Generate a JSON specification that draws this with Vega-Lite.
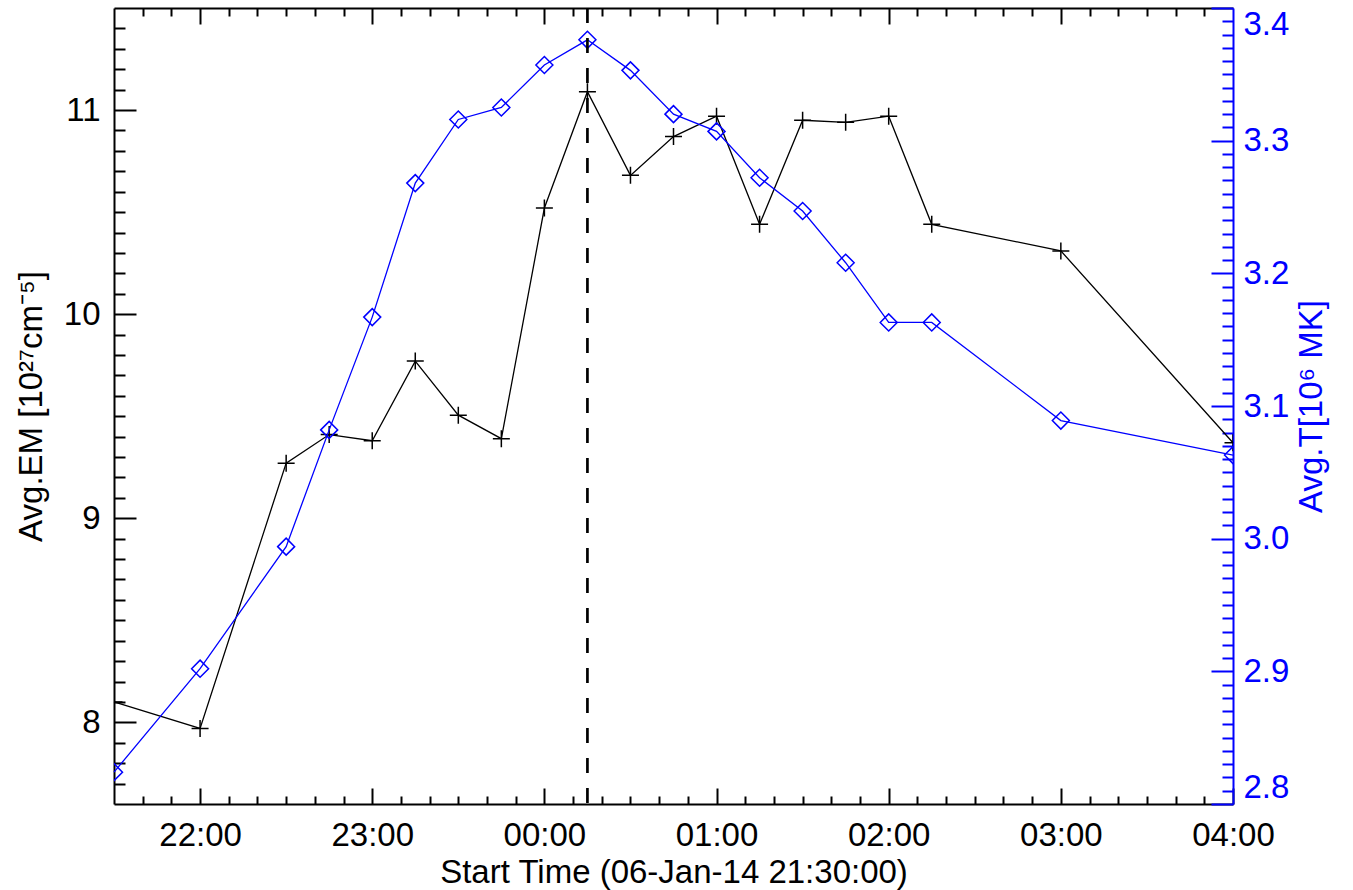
{
  "$schema": "https://vega.github.io/schema/vega-lite/v6.json",
  "width": 1119,
  "height": 796,
  "autosize": {"type": "none"},
  "padding": {"left": 114, "top": 8, "right": 120, "bottom": 86},
  "background": "white",
  "config": {
    "view": {"stroke": null},
    "font": "Liberation Sans",
    "axis": {"grid": false, "labelFont": "Liberation Sans", "titleFont": "Liberation Sans", "labelFontSize": 33, "titleFontSize": 33, "titleFontWeight": "normal", "labelColor": "black", "titleColor": "black", "tickColor": "black", "domainColor": "black", "domainWidth": 2, "tickWidth": 2}
  },
  "data": {
    "values": [
      {"time": "2014-01-06T21:30:00", "em": 8.10, "t": 2.824},
      {"time": "2014-01-06T22:00:00", "em": 7.97, "t": 2.902},
      {"time": "2014-01-06T22:30:00", "em": 9.27, "t": 2.994},
      {"time": "2014-01-06T22:45:00", "em": 9.41, "t": 3.082},
      {"time": "2014-01-06T23:00:00", "em": 9.38, "t": 3.167},
      {"time": "2014-01-06T23:15:00", "em": 9.77, "t": 3.268},
      {"time": "2014-01-06T23:30:00", "em": 9.505, "t": 3.316},
      {"time": "2014-01-06T23:45:00", "em": 9.39, "t": 3.325},
      {"time": "2014-01-07T00:00:00", "em": 10.52, "t": 3.357},
      {"time": "2014-01-07T00:15:00", "em": 11.09, "t": 3.376},
      {"time": "2014-01-07T00:30:00", "em": 10.68, "t": 3.353},
      {"time": "2014-01-07T00:45:00", "em": 10.87, "t": 3.320},
      {"time": "2014-01-07T01:00:00", "em": 10.97, "t": 3.307},
      {"time": "2014-01-07T01:15:00", "em": 10.44, "t": 3.272},
      {"time": "2014-01-07T01:30:00", "em": 10.95, "t": 3.247},
      {"time": "2014-01-07T01:45:00", "em": 10.94, "t": 3.208},
      {"time": "2014-01-07T02:00:00", "em": 10.97, "t": 3.163},
      {"time": "2014-01-07T02:15:00", "em": 10.44, "t": 3.163},
      {"time": "2014-01-07T03:00:00", "em": 10.31, "t": 3.089},
      {"time": "2014-01-07T04:00:00", "em": 9.37, "t": 3.063}
    ]
  },
  "resolve": {"scale": {"x": "independent", "y": "independent"}},
  "layer": [
    {
      "mark": {"type": "line", "color": "black", "strokeWidth": 1.3},
      "encoding": {
        "x": {"field": "time", "type": "temporal",
          "scale": {"domain": [{"year": 2014, "month": 1, "date": 6, "hours": 21, "minutes": 30}, {"year": 2014, "month": 1, "date": 7, "hours": 4, "minutes": 0}]},
          "axis": {"orient": "bottom", "format": "%H:%M",
            "values": [{"year": 2014, "month": 1, "date": 6, "hours": 22}, {"year": 2014, "month": 1, "date": 6, "hours": 23}, {"year": 2014, "month": 1, "date": 7, "hours": 0}, {"year": 2014, "month": 1, "date": 7, "hours": 1}, {"year": 2014, "month": 1, "date": 7, "hours": 2}, {"year": 2014, "month": 1, "date": 7, "hours": 3}, {"year": 2014, "month": 1, "date": 7, "hours": 4}],
            "tickSize": -16, "labelPadding": 31, "labelFlush": false, "title": "Start Time (06-Jan-14 21:30:00)", "titlePadding": 4}},
        "y": {"field": "em", "type": "quantitative",
          "scale": {"domain": [7.6, 11.5], "nice": false, "zero": false},
          "axis": {"orient": "left", "values": [8, 9, 10, 11], "tickSize": -22, "labelPadding": 36, "title": "Avg.EM [10²⁷cm⁻⁵]", "titleX": -73, "titleY": 398, "titleAngle": -90, "titleAlign": "center", "titleBaseline": "alphabetic"}}
      }
    },
    {
      "mark": {"type": "point", "shape": "M-1,0H1M0,-1V1", "size": 289, "color": "black", "strokeWidth": 1.5, "filled": false, "opacity": 1, "clip": true},
      "encoding": {
        "x": {"field": "time", "type": "temporal",
          "scale": {"domain": [{"year": 2014, "month": 1, "date": 6, "hours": 21, "minutes": 30}, {"year": 2014, "month": 1, "date": 7, "hours": 4, "minutes": 0}]},
          "axis": {"orient": "bottom", "tickSize": -8, "labels": false, "domain": false, "title": null,
            "values": [{"year": 2014, "month": 1, "date": 6, "hours": 21, "minutes": 40}, {"year": 2014, "month": 1, "date": 6, "hours": 21, "minutes": 50}, {"year": 2014, "month": 1, "date": 6, "hours": 22, "minutes": 10}, {"year": 2014, "month": 1, "date": 6, "hours": 22, "minutes": 20}, {"year": 2014, "month": 1, "date": 6, "hours": 22, "minutes": 30}, {"year": 2014, "month": 1, "date": 6, "hours": 22, "minutes": 40}, {"year": 2014, "month": 1, "date": 6, "hours": 22, "minutes": 50}, {"year": 2014, "month": 1, "date": 6, "hours": 23, "minutes": 10}, {"year": 2014, "month": 1, "date": 6, "hours": 23, "minutes": 20}, {"year": 2014, "month": 1, "date": 6, "hours": 23, "minutes": 30}, {"year": 2014, "month": 1, "date": 6, "hours": 23, "minutes": 40}, {"year": 2014, "month": 1, "date": 6, "hours": 23, "minutes": 50}, {"year": 2014, "month": 1, "date": 7, "hours": 0, "minutes": 10}, {"year": 2014, "month": 1, "date": 7, "hours": 0, "minutes": 20}, {"year": 2014, "month": 1, "date": 7, "hours": 0, "minutes": 30}, {"year": 2014, "month": 1, "date": 7, "hours": 0, "minutes": 40}, {"year": 2014, "month": 1, "date": 7, "hours": 0, "minutes": 50}, {"year": 2014, "month": 1, "date": 7, "hours": 1, "minutes": 10}, {"year": 2014, "month": 1, "date": 7, "hours": 1, "minutes": 20}, {"year": 2014, "month": 1, "date": 7, "hours": 1, "minutes": 30}, {"year": 2014, "month": 1, "date": 7, "hours": 1, "minutes": 40}, {"year": 2014, "month": 1, "date": 7, "hours": 1, "minutes": 50}, {"year": 2014, "month": 1, "date": 7, "hours": 2, "minutes": 10}, {"year": 2014, "month": 1, "date": 7, "hours": 2, "minutes": 20}, {"year": 2014, "month": 1, "date": 7, "hours": 2, "minutes": 30}, {"year": 2014, "month": 1, "date": 7, "hours": 2, "minutes": 40}, {"year": 2014, "month": 1, "date": 7, "hours": 2, "minutes": 50}, {"year": 2014, "month": 1, "date": 7, "hours": 3, "minutes": 10}, {"year": 2014, "month": 1, "date": 7, "hours": 3, "minutes": 20}, {"year": 2014, "month": 1, "date": 7, "hours": 3, "minutes": 30}, {"year": 2014, "month": 1, "date": 7, "hours": 3, "minutes": 40}, {"year": 2014, "month": 1, "date": 7, "hours": 3, "minutes": 50}]}},
        "y": {"field": "em", "type": "quantitative",
          "scale": {"domain": [7.6, 11.5], "nice": false, "zero": false},
          "axis": {"orient": "left", "values": [7.7, 7.8, 7.9, 8.1, 8.2, 8.3, 8.4, 8.5, 8.6, 8.7, 8.8, 8.9, 9.1, 9.2, 9.3, 9.4, 9.5, 9.6, 9.7, 9.8, 9.9, 10.1, 10.2, 10.3, 10.4, 10.5, 10.6, 10.7, 10.8, 10.9, 11.1, 11.2, 11.3, 11.4], "tickSize": -11, "labels": false, "domain": false, "title": null}}
      }
    },
    {
      "mark": {"type": "line", "color": "#0000ff", "strokeWidth": 1.3},
      "encoding": {
        "x": {"field": "time", "type": "temporal",
          "scale": {"domain": [{"year": 2014, "month": 1, "date": 6, "hours": 21, "minutes": 30}, {"year": 2014, "month": 1, "date": 7, "hours": 4, "minutes": 0}]},
          "axis": {"orient": "top", "tickSize": -16, "labels": false, "title": null,
            "values": [{"year": 2014, "month": 1, "date": 6, "hours": 22}, {"year": 2014, "month": 1, "date": 6, "hours": 23}, {"year": 2014, "month": 1, "date": 7, "hours": 0}, {"year": 2014, "month": 1, "date": 7, "hours": 1}, {"year": 2014, "month": 1, "date": 7, "hours": 2}, {"year": 2014, "month": 1, "date": 7, "hours": 3}]}},
        "y": {"field": "t", "type": "quantitative",
          "scale": {"domain": [2.8, 3.4], "nice": false, "zero": false},
          "axis": {"orient": "right", "values": [2.8, 2.9, 3.0, 3.1, 3.2, 3.3, 3.4], "format": ".1f", "tickSize": -22, "labelPadding": 32, "labelFlush": true, "labelFlushOffset": 0, "labelColor": "#0000ff", "tickColor": "#0000ff", "domainColor": "#0000ff", "title": "Avg.T[10⁶ MK]", "titleColor": "#0000ff", "titleAngle": -90, "titleX": 88, "titleY": 398, "titleAlign": "center", "titleBaseline": "alphabetic"}}
      }
    },
    {
      "mark": {"type": "point", "shape": "diamond", "size": 289, "color": "#0000ff", "strokeWidth": 1.5, "filled": false, "opacity": 1, "clip": true},
      "encoding": {
        "x": {"field": "time", "type": "temporal",
          "scale": {"domain": [{"year": 2014, "month": 1, "date": 6, "hours": 21, "minutes": 30}, {"year": 2014, "month": 1, "date": 7, "hours": 4, "minutes": 0}]},
          "axis": {"orient": "top", "tickSize": -8, "labels": false, "domain": false, "title": null,
            "values": [{"year": 2014, "month": 1, "date": 6, "hours": 21, "minutes": 40}, {"year": 2014, "month": 1, "date": 6, "hours": 21, "minutes": 50}, {"year": 2014, "month": 1, "date": 6, "hours": 22, "minutes": 10}, {"year": 2014, "month": 1, "date": 6, "hours": 22, "minutes": 20}, {"year": 2014, "month": 1, "date": 6, "hours": 22, "minutes": 30}, {"year": 2014, "month": 1, "date": 6, "hours": 22, "minutes": 40}, {"year": 2014, "month": 1, "date": 6, "hours": 22, "minutes": 50}, {"year": 2014, "month": 1, "date": 6, "hours": 23, "minutes": 10}, {"year": 2014, "month": 1, "date": 6, "hours": 23, "minutes": 20}, {"year": 2014, "month": 1, "date": 6, "hours": 23, "minutes": 30}, {"year": 2014, "month": 1, "date": 6, "hours": 23, "minutes": 40}, {"year": 2014, "month": 1, "date": 6, "hours": 23, "minutes": 50}, {"year": 2014, "month": 1, "date": 7, "hours": 0, "minutes": 10}, {"year": 2014, "month": 1, "date": 7, "hours": 0, "minutes": 20}, {"year": 2014, "month": 1, "date": 7, "hours": 0, "minutes": 30}, {"year": 2014, "month": 1, "date": 7, "hours": 0, "minutes": 40}, {"year": 2014, "month": 1, "date": 7, "hours": 0, "minutes": 50}, {"year": 2014, "month": 1, "date": 7, "hours": 1, "minutes": 10}, {"year": 2014, "month": 1, "date": 7, "hours": 1, "minutes": 20}, {"year": 2014, "month": 1, "date": 7, "hours": 1, "minutes": 30}, {"year": 2014, "month": 1, "date": 7, "hours": 1, "minutes": 40}, {"year": 2014, "month": 1, "date": 7, "hours": 1, "minutes": 50}, {"year": 2014, "month": 1, "date": 7, "hours": 2, "minutes": 10}, {"year": 2014, "month": 1, "date": 7, "hours": 2, "minutes": 20}, {"year": 2014, "month": 1, "date": 7, "hours": 2, "minutes": 30}, {"year": 2014, "month": 1, "date": 7, "hours": 2, "minutes": 40}, {"year": 2014, "month": 1, "date": 7, "hours": 2, "minutes": 50}, {"year": 2014, "month": 1, "date": 7, "hours": 3, "minutes": 10}, {"year": 2014, "month": 1, "date": 7, "hours": 3, "minutes": 20}, {"year": 2014, "month": 1, "date": 7, "hours": 3, "minutes": 30}, {"year": 2014, "month": 1, "date": 7, "hours": 3, "minutes": 40}, {"year": 2014, "month": 1, "date": 7, "hours": 3, "minutes": 50}]}},
        "y": {"field": "t", "type": "quantitative",
          "scale": {"domain": [2.8, 3.4], "nice": false, "zero": false},
          "axis": {"orient": "right", "values": [2.81, 2.82, 2.83, 2.84, 2.85, 2.86, 2.87, 2.88, 2.89, 2.91, 2.92, 2.93, 2.94, 2.95, 2.96, 2.97, 2.98, 2.99, 3.01, 3.02, 3.03, 3.04, 3.05, 3.06, 3.07, 3.08, 3.09, 3.11, 3.12, 3.13, 3.14, 3.15, 3.16, 3.17, 3.18, 3.19, 3.21, 3.22, 3.23, 3.24, 3.25, 3.26, 3.27, 3.28, 3.29, 3.31, 3.32, 3.33, 3.34, 3.35, 3.36, 3.37, 3.38, 3.39], "tickSize": -11, "tickColor": "#0000ff", "labels": false, "domain": false, "title": null}}
      }
    },
    {
      "data": {"values": [{"peak": "2014-01-07T00:15:00"}]},
      "mark": {"type": "rule", "color": "black", "strokeWidth": 2.7, "strokeDash": [15, 15]},
      "encoding": {
        "x": {"field": "peak", "type": "temporal",
          "scale": {"domain": [{"year": 2014, "month": 1, "date": 6, "hours": 21, "minutes": 30}, {"year": 2014, "month": 1, "date": 7, "hours": 4, "minutes": 0}]},
          "axis": null}
      }
    }
  ]
}
